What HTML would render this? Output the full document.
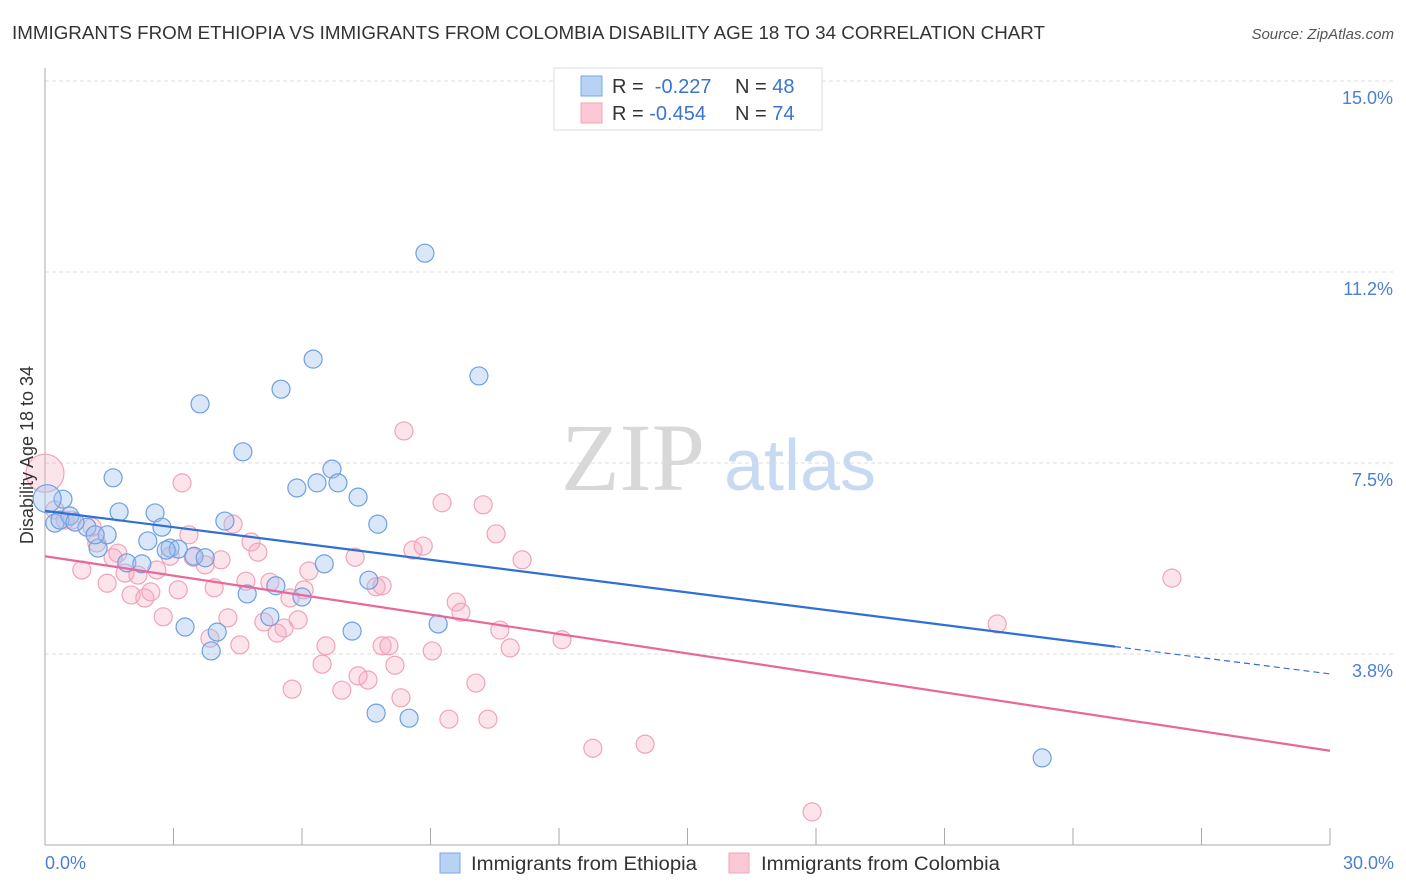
<!DOCTYPE html>
<html><head><meta charset="utf-8"><style>
body{margin:0;background:#fff;font-family:"Liberation Sans",sans-serif;}
svg{display:block}
</style></head><body>
<svg id="chart" width="1406" height="892" viewBox="0 0 1406 892">
<text x="12" y="39" font-size="18" fill="#333" textLength="1033" lengthAdjust="spacingAndGlyphs">IMMIGRANTS FROM ETHIOPIA VS IMMIGRANTS FROM COLOMBIA DISABILITY AGE 18 TO 34 CORRELATION CHART</text>
<text x="1394" y="39" font-size="15" fill="#555" text-anchor="end" font-style="italic">Source: ZipAtlas.com</text>
<text x="633" y="490" font-size="96" fill="#d8d8d8" text-anchor="middle" font-family="Liberation Serif, serif">ZIP</text>
<text x="800" y="490" font-size="72" fill="#c8daf2" text-anchor="middle">atlas</text>
<g id="grid"></g><g id="axes"></g><g id="pts"></g><g id="lines"></g>
<text transform="translate(33,455) rotate(-90)" font-size="18" fill="#333" text-anchor="middle">Disability Age 18 to 34</text>
<text x="45" y="869" font-size="18" fill="#4a7fd4">0.0%</text>
<text x="1394" y="869" font-size="18" fill="#4a7fd4" text-anchor="end">30.0%</text>
<g>
<rect x="554" y="68" width="268" height="62" fill="#fff" stroke="#ddd"/>
<rect x="581" y="76" width="21" height="20" fill="#b8d2f4" stroke="#7aa6e6"/>
<rect x="581" y="103" width="21" height="20" fill="#fbc8d6" stroke="#f1a3ba"/>
<text x="612" y="93" font-size="20" fill="#333">R = <tspan fill="#3a74d0">&#160;-0.227</tspan><tspan x="735">N = </tspan><tspan fill="#3a74d0">48</tspan></text>
<text x="612" y="120" font-size="20" fill="#333">R = <tspan fill="#3a74d0">-0.454</tspan><tspan x="735">N = </tspan><tspan fill="#3a74d0">74</tspan></text>
</g>
<g>
<rect x="440" y="853" width="20" height="20" fill="#b8d2f4" stroke="#7aa6e6"/>
<text x="471" y="870" font-size="19" fill="#333" textLength="226" lengthAdjust="spacingAndGlyphs">Immigrants from Ethiopia</text>
<rect x="729" y="853" width="20" height="20" fill="#fbc8d6" stroke="#f1a3ba"/>
<text x="761" y="870" font-size="19" fill="#333" textLength="239" lengthAdjust="spacingAndGlyphs">Immigrants from Colombia</text>
</g>
</svg>
<script>
const yTicks=[3.75,7.5,11.25,15];
const yTickLabels=["3.8%","7.5%","11.2%","15.0%"];
const xTicks=[3,6,9,12,15,18,21,24,27,30];
const ethX=[0.42,0.23,0.58,0.98,1.24,1.45,1.59,1.73,1.91,2.26,2.40,2.57,2.73,2.92,3.11,3.27,3.48,3.62,3.74,3.88,4.02,4.20,4.62,4.72,5.25,5.39,5.51,5.88,6.00,6.26,6.35,6.52,6.70,6.84,7.31,7.17,7.56,7.73,7.77,8.50,8.87,9.18,10.13,23.28,0.35,0.70,1.17,2.83,0.05];
const ethY=[6.79,6.32,6.46,6.24,5.83,6.09,7.21,6.54,5.54,5.52,5.97,6.52,6.24,5.83,5.81,4.28,5.67,8.66,5.64,3.81,4.18,6.36,7.72,4.93,4.48,5.09,8.95,7.01,4.87,9.54,7.11,5.52,7.38,7.11,6.83,4.20,5.20,2.59,6.30,2.49,11.62,4.34,9.21,1.71,6.38,6.34,6.09,5.79,6.80];
const colX=[0,0.23,0.47,0.63,0.86,1.10,1.21,1.45,1.59,1.70,1.87,2.01,2.17,2.33,2.47,2.61,2.76,2.92,3.11,3.20,3.36,3.46,3.74,3.85,3.95,4.11,4.27,4.39,4.55,4.69,4.81,4.97,5.11,5.25,5.42,5.58,5.77,5.91,6.05,6.16,6.47,6.56,6.93,7.24,7.31,7.54,7.73,7.87,7.87,8.03,8.17,8.31,8.38,8.59,8.83,9.04,9.27,9.43,9.60,9.71,10.06,10.23,10.34,10.53,10.62,10.86,11.14,12.07,12.79,14.01,17.91,22.23,26.31,5.72];
const colY=[7.30,6.58,6.38,6.38,5.40,6.24,5.93,5.14,5.64,5.73,5.34,4.91,5.30,4.85,4.97,5.40,4.48,5.67,5.01,7.11,6.09,5.65,5.50,4.06,5.05,5.60,4.46,6.30,3.93,5.18,5.95,5.75,4.38,5.16,4.16,4.26,3.06,4.42,5.01,5.38,3.55,3.91,3.04,5.65,3.32,3.24,5.07,5.09,3.91,3.91,3.53,2.89,8.13,5.79,5.87,3.81,6.72,2.47,4.77,4.57,3.18,6.68,2.47,6.11,4.22,3.87,5.60,4.03,1.90,1.98,0.65,4.34,5.24,4.85];
const ethTrend=[6.56,-0.1067,24.98]; // intercept, slope, solid end
const colTrend=[5.67,-0.1273];
const X=v=>45+v*1285/30, Y=v=>845-v*50.93;
const NS="http://www.w3.org/2000/svg";
function mk(p,t,a){const e=document.createElementNS(NS,t);for(const k in a)e.setAttribute(k,a[k]);p.appendChild(e);return e;}
const grid=document.getElementById('grid'),axes=document.getElementById('axes'),pts=document.getElementById('pts'),lines=document.getElementById('lines');
yTicks.forEach((t,i)=>{
 const l=mk(grid,'line',{x1:45,x2:1394,y1:Y(t),y2:Y(t),stroke:'#ddd','stroke-dasharray':'4,3'});
 
 
 const tx=mk(grid,'text',{x:1393,y:Y(t)+23,'font-size':18,fill:'#4a7fd4','text-anchor':'end'});
 tx.textContent=yTickLabels[i];
 
 
});
const ya=mk(axes,'line',{x1:45,x2:45,y1:68,y2:845,stroke:'#aaa'});


const xa=mk(axes,'line',{x1:45,x2:1330,y1:845,y2:845,stroke:'#aaa'});


xTicks.forEach(t=>{
 const l=mk(axes,'line',{x1:X(t),x2:X(t),y1:828,y2:845,stroke:'#aaa'});
 
 
});
colX.forEach((x,i)=>{
 const c=mk(pts,'circle',{cx:X(x),cy:Y(colY[i]),r:i===0?19:9,fill:'rgba(246,170,192,0.32)',stroke:'#f0a3ba','stroke-width':1.2});
 
 
});
ethX.forEach((x,i)=>{
 const c=mk(pts,'circle',{cx:X(x),cy:Y(ethY[i]),r:i===48?14:9,fill:'rgba(160,196,240,0.4)',stroke:'#6f9fe2','stroke-width':1.2});
 
 
});
const b1=mk(lines,'line',{x1:X(0),y1:Y(ethTrend[0]),x2:X(ethTrend[2]),y2:Y(ethTrend[0]+ethTrend[1]*ethTrend[2]),stroke:'#2f6fd6','stroke-width':2.2});


const b2=mk(lines,'line',{x1:X(ethTrend[2]),y1:Y(ethTrend[0]+ethTrend[1]*ethTrend[2]),x2:X(30),y2:Y(ethTrend[0]+ethTrend[1]*30),stroke:'#2f6fd6','stroke-width':1.2,'stroke-dasharray':'6,4'});


const p1=mk(lines,'line',{x1:X(0),y1:Y(colTrend[0]),x2:X(30),y2:Y(colTrend[0]+colTrend[1]*30),stroke:'#e8689a','stroke-width':2.2});


</script>
</body></html>
